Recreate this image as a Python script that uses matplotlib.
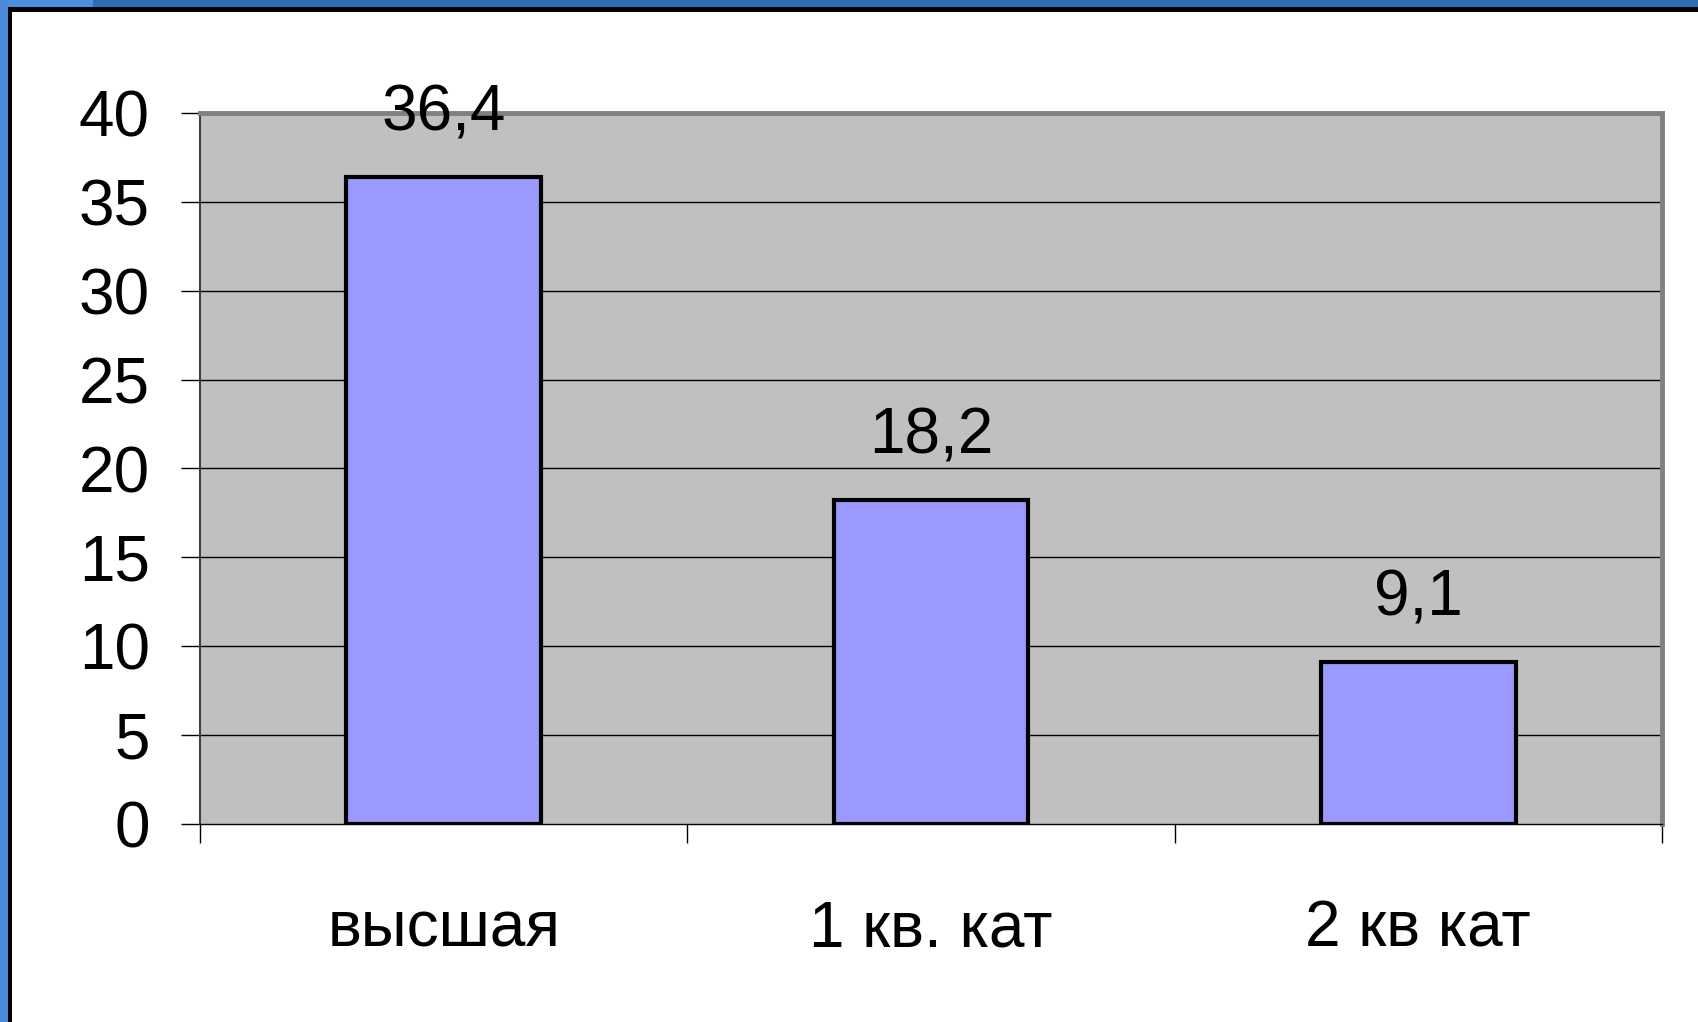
import matplotlib.pyplot as plt
from matplotlib import patches

categories = ['высшая', '1 кв. кат', '2 кв кат']
values = [36.4, 18.2, 9.1]
value_labels = ['36,4', '18,2', '9,1']
yticks = [0, 5, 10, 15, 20, 25, 30, 35, 40]

plt.rcParams['font.family'] = ['Liberation Sans', 'DejaVu Sans']

fig = plt.figure(figsize=(16.98, 10.22), dpi=100)
fig.patch.set_facecolor('white')

# blue window frame on top/left
fig.add_artist(patches.Rectangle((0, 1 - 7 / 1022), 1, 7 / 1022, transform=fig.transFigure,
                                 color='#2f6db3', lw=0))
fig.add_artist(patches.Rectangle((0, 1 - 7 / 1022), 93 / 1698, 7 / 1022, transform=fig.transFigure,
                                 color='#4a90dc', lw=0))
fig.add_artist(patches.Rectangle((0, 0), 8 / 1698, 1, transform=fig.transFigure,
                                 color='#4a8ad8', lw=0))
fig.add_artist(patches.Rectangle((8 / 1698, 1 - 12 / 1022), 1, 5 / 1022, transform=fig.transFigure,
                                 color='black', lw=0))
fig.add_artist(patches.Rectangle((8 / 1698, 0), 4 / 1698, 1 - 7 / 1022, transform=fig.transFigure,
                                 color='black', lw=0))

ax = fig.add_axes([200 / 1698, 198 / 1022, 1462 / 1698, 711 / 1022])
ax.set_facecolor('#c0c0c0')

x = range(len(categories))
ax.bar(x, values, width=0.40, color='#9999ff', edgecolor='black', linewidth=3, zorder=3)

for i, v in enumerate(values):
    ax.annotate(value_labels[i], (i, v), xytext=(0, 46), textcoords='offset points',
                ha='center', va='center', fontsize=46, zorder=5, annotation_clip=False)

ax.set_xlim(-0.5, 2.5)
ax.set_ylim(0, 40)
ax.set_yticks(yticks)
ax.set_yticklabels([str(t) for t in yticks], fontsize=46)
for t in yticks[1:-1]:
    ax.axhline(t, color='black', lw=1, zorder=1)

ax.set_xticks([-0.5, 0.5, 1.5, 2.5])
ax.set_xticklabels([])
ax.set_xticks(list(x), minor=True)
ax.set_xticklabels(categories, minor=True, fontsize=46)
ax.tick_params(axis='x', which='major', direction='out', length=14, width=1)
ax.tick_params(axis='x', which='minor', length=0, pad=54)
ax.tick_params(axis='y', direction='out', length=14, width=1, pad=22)

ax.spines['top'].set_color('#808080')
ax.spines['top'].set_linewidth(3.5)
ax.spines['right'].set_color('#808080')
ax.spines['right'].set_linewidth(3.5)
ax.spines['left'].set_color('#404040')
ax.spines['left'].set_linewidth(1.5)
ax.spines['bottom'].set_color('black')
ax.spines['bottom'].set_linewidth(1)

fig.savefig('out.png', dpi=100)
